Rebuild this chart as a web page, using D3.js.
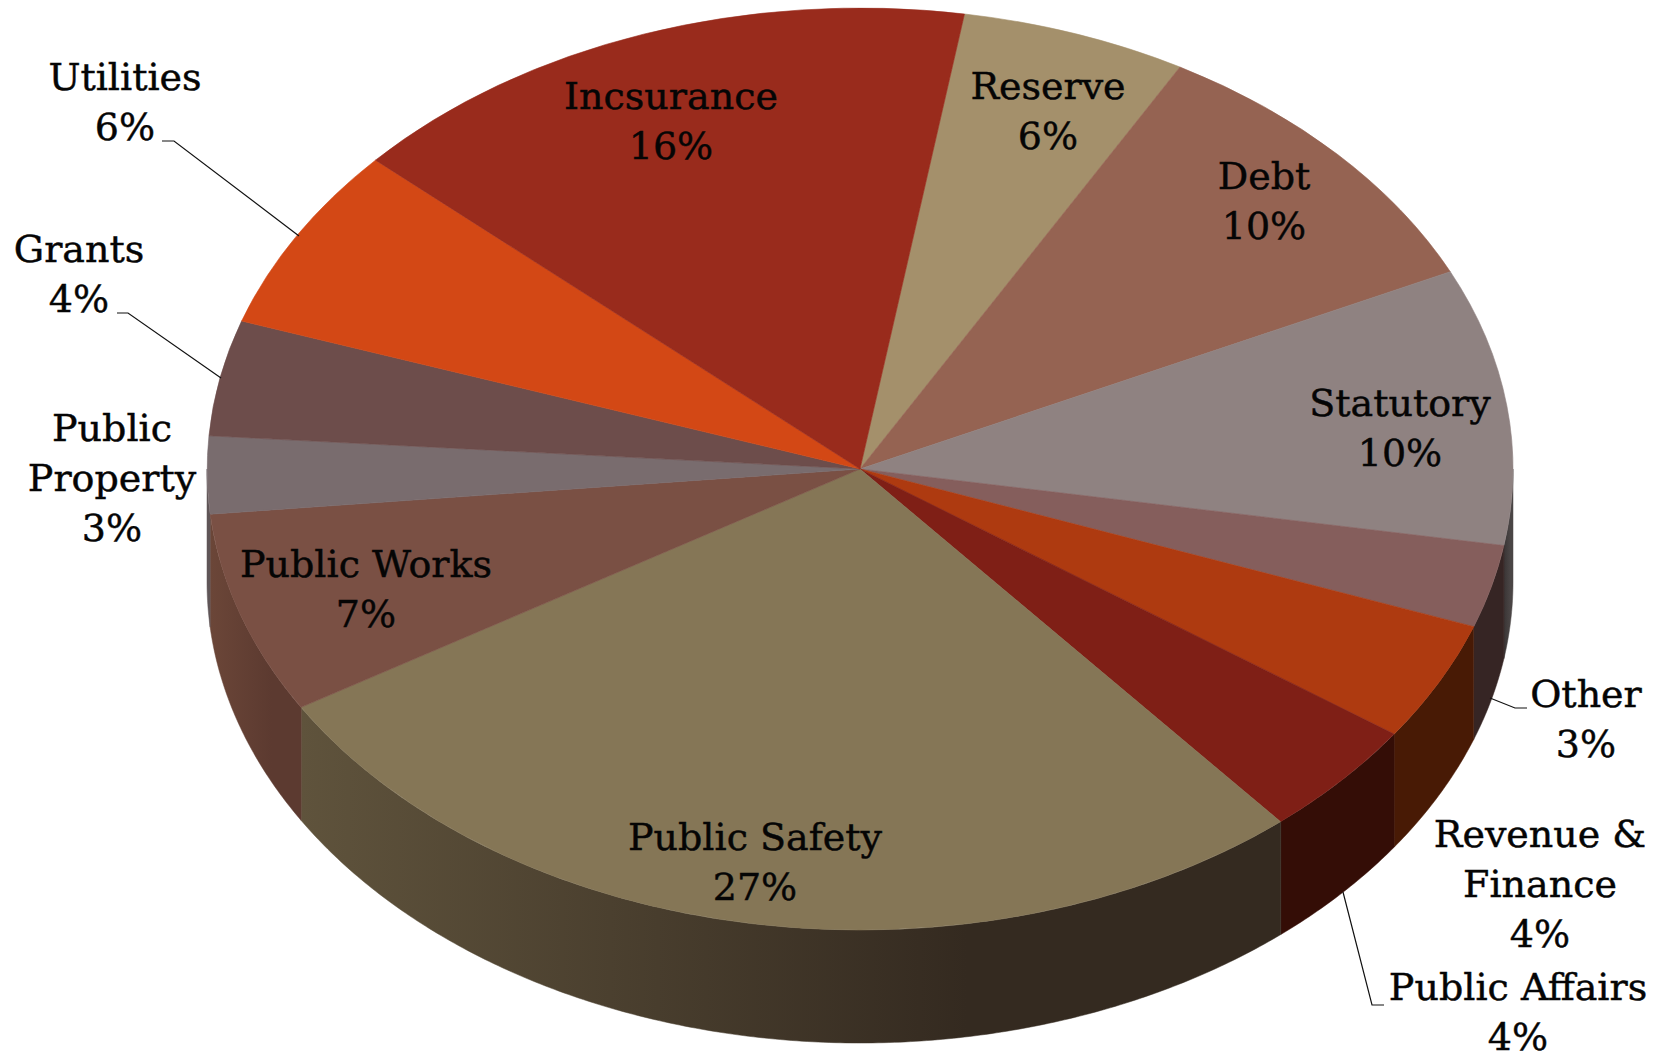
<!DOCTYPE html>
<html>
<head>
<meta charset="utf-8">
<script src="https://cdn.jsdelivr.net/npm/d3@7"></script>
<style>
  html, body { margin: 0; background: #fff; }
  svg { display: block; }
  text { font-family: "DejaVu Serif", serif; fill: #050505; stroke: #050505; stroke-width: 0.45; text-anchor: middle; }
</style>
</head>
<body>
<svg id="chart" width="1663" height="1058"></svg>
<script>
// Municipal budget shares, clockwise from the Reserve slice.
const categories = ["Reserve", "Debt", "Statutory", "Other", "Revenue & Finance", "Public Affairs",
                    "Public Safety", "Public Works", "Public Property", "Grants", "Utilities", "Incsurance"];
const shares = [5.6, 9.8, 9.7, 2.9, 4.2, 4.1, 27.49, 7.1, 2.7, 4.05, 6.49, 15.87];

// Slice colours: top face, then the shaded rim (left and right ends of its gradient).
const topColors = ["#a4906b", "#956352", "#8f8281", "#855e5c", "#ae3a10", "#7f1f16",
                   "#857656", "#7a5044", "#796c6e", "#6d4d4b", "#d34815", "#992b1c"];
const rimLeft   = ["#000", "#000", "#3a3535", "#362524", "#481a05", "#340d06",
                   "#5f533c", "#6b4638", "#5f5557", "#000", "#000", "#000"];
const rimRight  = ["#000", "#000", "#4a4545", "#362524", "#481a05", "#340d06",
                   "#342a20", "#5c3a30", "#5f5557", "#000", "#000", "#000"];

// Label text lines and where each block sits: [centre x, first baseline].
const labelLines = [["Reserve"], ["Debt"], ["Statutory"], ["Other"], ["Revenue &", "Finance"], ["Public Affairs"],
                    ["Public Safety"], ["Public Works"], ["Public", "Property"], ["Grants"], ["Utilities"], ["Incsurance"]];
const labelAnchors = [[1048, 99], [1264, 189], [1400, 416], [1586, 707], [1540, 847], [1518, 1000],
                      [755, 850], [366, 577], [112, 441], [79, 262], [125, 90], [671, 109]];
const lineStep = 50;

// Leader lines keyed by category.
const leaders = [
  { name: "Utilities", pts: [[162, 141], [174, 141], [299, 236]] },
  { name: "Grants", pts: [[117, 313], [128, 313], [221, 378]] },
  { name: "Other", pts: [[1527, 708], [1515, 708], [1490, 698]] },
  { name: "Public Affairs", pts: [[1384, 1005], [1372, 1005], [1343, 892]] }
];

const cx = 860, cy = 469, rx = 653, ry = 461, depth = 113;
const startDeg = 9.2;

const svg = d3.select("#chart");
const defs = svg.append("defs");

const pie = d3.pie().sort(null)
  .startAngle(startDeg * Math.PI / 180)
  .endAngle((startDeg + 360) * Math.PI / 180);
const arcs = pie(shares);
const pct = d3.format(".0f");

const edgeX = a => cx + rx * Math.sin(a);
const edgeY = a => cy - ry * Math.cos(a);

// Rim: only the part of each slice on the near half of the ellipse is visible.
const rim = svg.append("g");
arcs.forEach((d, i) => {
  let a0 = d.startAngle, a1 = d.endAngle;
  a0 = Math.max(a0, Math.PI / 2);
  a1 = Math.min(a1, 3 * Math.PI / 2);
  if (a1 <= a0) return;
  const n = Math.max(4, Math.ceil((a1 - a0) * 120));
  const samples = d3.range(n + 1).map(k => a0 + (a1 - a0) * k / n);
  const upper = samples.map(a => [edgeX(a), edgeY(a)]);
  const lower = samples.slice().reverse().map(a => [edgeX(a), edgeY(a) + depth]);
  const id = "rim" + i;
  const xs = d3.extent(upper, p => p[0]);
  const grad = defs.append("linearGradient").attr("id", id)
    .attr("gradientUnits", "userSpaceOnUse")
    .attr("x1", xs[0]).attr("x2", xs[1]).attr("y1", 0).attr("y2", 0);
  // Rim faces darken away from the light, then stay flat towards the right.
  grad.append("stop").attr("offset", 0).attr("stop-color", rimLeft[i]);
  grad.append("stop").attr("offset", 0.68).attr("stop-color", rimRight[i]);
  grad.append("stop").attr("offset", 1).attr("stop-color", rimRight[i]);
  rim.append("path")
    .attr("d", d3.line()(upper.concat(lower)) + "Z")
    .attr("fill", `url(#${id})`)
    .attr("stroke", `url(#${id})`).attr("stroke-width", 0.5);
});

// Top face: unit-radius arcs stretched onto the ellipse.
const arcGen = d3.arc().innerRadius(0).outerRadius(1);
svg.append("g")
  .attr("transform", `translate(${cx},${cy}) scale(${rx},${ry})`)
  .selectAll("path").data(arcs).join("path")
  .attr("d", arcGen)
  .attr("fill", (d, i) => topColors[i])
  .attr("stroke", (d, i) => topColors[i])
  .attr("stroke-width", 0.6)
  .attr("vector-effect", "non-scaling-stroke");

// Leader lines
svg.append("g").selectAll("path").data(leaders).join("path")
  .attr("d", d => d3.line()(d.pts))
  .attr("fill", "none").attr("stroke", "#111").attr("stroke-width", 1.2);

// Labels: name lines followed by the rounded share.
const labels = svg.append("g").attr("font-size", 38);
categories.forEach((c, i) => {
  const lines = labelLines[i].concat(pct(shares[i]) + "%");
  const [x, y] = labelAnchors[i];
  lines.forEach((t, k) => {
    labels.append("text").attr("x", x).attr("y", y + k * lineStep).text(t);
  });
});
</script>
</body>
</html>
